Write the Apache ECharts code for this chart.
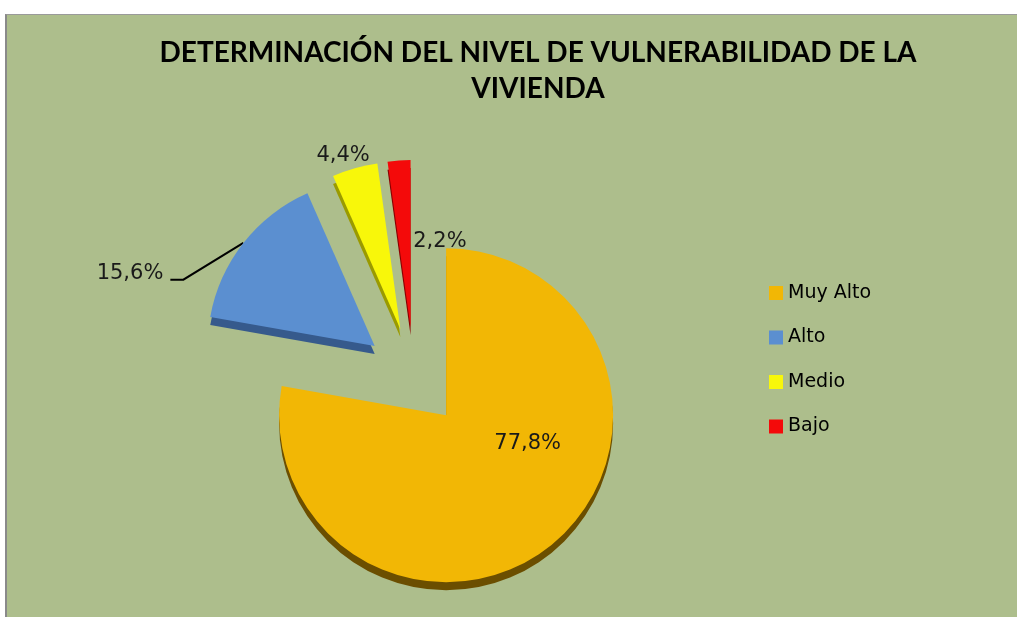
<!DOCTYPE html>
<html>
<head>
<meta charset="utf-8">
<script src="https://cdn.jsdelivr.net/npm/echarts@6/dist/echarts.min.js"></script>
<style>
  html, body { margin: 0; padding: 0; background: #ffffff; }
  #frame {
    position: absolute; left: 5px; top: 14px; width: 1012px; height: 603px;
    background: #adbe8c; border-left: 2px solid #8a8a8a; border-top: 1px solid #9a9a9a;
  }
  #main { position: absolute; left: 0; top: 0; width: 1017px; height: 617px; }
</style>
</head>
<body>
<div id="frame"></div>
<div id="main"></div>
<script>
// datos del grafico
var categorias = ['Muy Alto', 'Alto', 'Medio', 'Bajo'];
var porcentajes = [77.8, 15.6, 4.4, 2.2];
var colores = ['#f2b705', '#5b8fd0', '#f8f70a', '#f40a0a'];
var coloresLado = ['#6b4e00', '#365a8c', '#9a9a00', '#8a0000'];
// desplazamiento manual de las etiquetas (como en el original)
var etiquetaDx = [26, -57, 61, 77];
var etiquetaDy = [-38, 49, -24, 87];

var chart = echarts.init(document.getElementById('main'));

function fmt(v) {
    return v.toFixed(1).replace('.', ',') + '%';
}

// cara superior
var dataTop = [];
// lado (efecto 3D)
var dataSide = [];
for (let i = 0; i < categorias.length; i++) {
    let item = {
        name: categorias[i],
        value: porcentajes[i],
        selected: true,
        itemStyle: { color: colores[i] }
    };
    if (i === 0) {
        item.label = { position: 'inside' };
    } else if (i === 1) {
        item.label = { position: 'outside' };
        item.labelLine = { show: true, length: 30, length2: 14 };
    } else {
        item.label = { position: 'outside' };
        item.labelLine = { show: false, length: 6, length2: 4 };
    }
    dataTop.push(item);
    dataSide.push({
        name: categorias[i],
        value: porcentajes[i],
        selected: true,
        itemStyle: { color: coloresLado[i] }
    });
}

var option = {
    backgroundColor: 'transparent',
    animation: false,
    textStyle: { fontFamily: 'DejaVu Sans' },
    title: {
        text: 'DETERMINACIÓN DEL NIVEL DE VULNERABILIDAD DE LA\nVIVIENDA',
        left: 533,
        textAlign: 'center',
        top: 30,
        textStyle: {
            fontFamily: 'Lato', fontWeight: 'bold', fontSize: 28,
            color: '#000', lineHeight: 36
        }
    },
    legend: {
        orient: 'vertical',
        left: 764,
        top: 278,
        itemWidth: 14,
        itemHeight: 14,
        itemGap: 24.5,
        icon: 'rect',
        data: categorias,
        textStyle: { fontFamily: 'DejaVu Sans', fontSize: 19, color: '#000', lineHeight: 20 }
    },
    series: [
        {
            name: 'Nivel de vulnerabilidad',
            type: 'pie',
            z: 3,
            center: [414, 377],
            radius: 167,
            startAngle: 90,
            selectedMode: 'multiple',
            selectedOffset: 50,
            label: {
                show: true,
                formatter: function (p) { return fmt(p.value); },
                fontFamily: 'DejaVu Sans',
                fontSize: 21,
                color: '#1a1a1a'
            },
            labelLine: { lineStyle: { color: '#000', width: 2 } },
            labelLayout: function (params) {
                let i = params.dataIndex;
                let r = params.labelRect;
                let res = { dx: etiquetaDx[i], dy: etiquetaDy[i] };
                // linea guia: desde el borde del sector hasta la etiqueta movida
                if (i === 1 && params.labelLinePoints) {
                    let right = r.x + r.width + etiquetaDx[i];
                    let yLine = r.y + etiquetaDy[i] + r.height * 0.8;
                    res.labelLinePoints = [
                        params.labelLinePoints[0],
                        [right + 20, yLine],
                        [right + 7, yLine]
                    ];
                }
                return res;
            },
            data: dataTop
        },
        {
            name: 'lado',
            type: 'pie',
            silent: true,
            z: 1,
            center: [414, 385],
            radius: 167,
            startAngle: 90,
            selectedMode: 'multiple',
            selectedOffset: 50,
            label: { show: false },
            labelLine: { show: false },
            data: dataSide
        }
    ]
};

chart.setOption(option);
</script>
</body>
</html>
